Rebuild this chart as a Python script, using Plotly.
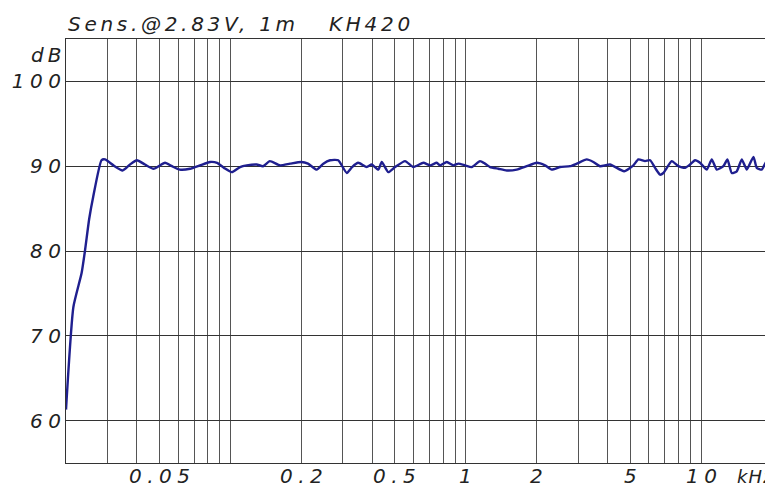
import math
import plotly.graph_objects as go

freq_khz = [0.0200, 0.0215, 0.0233, 0.0241, 0.0251, 0.0261, 0.0283, 0.0293, 0.0318, 0.0348,
            0.0374, 0.0400, 0.0433, 0.0471, 0.0527, 0.0564, 0.0609, 0.0673, 0.0742, 0.0818,
            0.0877, 0.0939, 0.1013, 0.1098, 0.1172, 0.1293, 0.1375, 0.147, 0.1624, 0.179,
            0.200, 0.2135, 0.2325, 0.248, 0.265, 0.287, 0.312, 0.3286, 0.349, 0.3793,
            0.398, 0.4249, 0.4393, 0.4686, 0.5003, 0.552, 0.5985, 0.660, 0.7047, 0.7525,
            0.777, 0.830, 0.885, 0.930, 0.993, 1.060, 1.149, 1.207, 1.268, 1.375,
            1.493, 1.646, 1.816, 2.002, 2.171, 2.318, 2.515, 2.773, 2.96, 3.265,
            3.483, 3.719, 4.102, 4.705, 5.152, 5.41, 5.777, 6.07, 6.37, 6.69,
            6.91, 7.50, 8.0, 8.54, 8.97, 9.42, 9.89, 10.57, 11.09, 11.65,
            12.43, 12.93, 13.49, 14.17, 14.88, 15.63, 16.68, 17.23, 18.09, 19.0, 20.0]
spl_db = [61.3, 73.4, 77.4, 80.1, 83.8, 86.4, 90.7, 90.8, 90.1, 89.5,
          90.2, 90.7, 90.2, 89.7, 90.4, 90.0, 89.6, 89.7, 90.1, 90.5,
          90.4, 89.8, 89.3, 89.9, 90.1, 90.2, 90.0, 90.6, 90.1, 90.3,
          90.5, 90.3, 89.6, 90.3, 90.7, 90.7, 89.2, 89.9, 90.4, 89.9,
          90.2, 89.6, 90.5, 89.3, 89.9, 90.6, 89.9, 90.4, 90.1, 90.4,
          90.1, 90.5, 90.1, 90.3, 90.1, 89.9, 90.6, 90.3, 89.9, 89.7,
          89.5, 89.6, 90.0, 90.4, 90.1, 89.6, 89.9, 90.0, 90.3, 90.8,
          90.5, 90.0, 90.2, 89.4, 90.1, 90.8, 90.6, 90.7, 89.8, 89.0,
          89.2, 90.6, 90.0, 89.8, 90.2, 90.7, 90.4, 89.6, 90.8, 89.6,
          90.0, 90.8, 89.2, 89.4, 90.8, 89.6, 91.1, 89.8, 89.6, 90.6, 90.0]

x_tick_vals = [0.05, 0.2, 0.5, 1, 2, 5, 10]
x_tick_labels = ["0.05", "0.2", "0.5", "1", "2", "5", "10"]
x_grid_vals = [m * d for d in (0.01, 0.1, 1, 10) for m in range(1, 10)] + [20]
y_tick_vals = [60, 70, 80, 90, 100]
y_tick_labels = ["60", "70", "80", "90", "100"]
title_text = "Sens.@2.83V,\u00a01m\u00a0\u00a0\u00a0KH420"

FONT = "DejaVu Sans"


def spaced(t, px):
    # letter-spacing between characters only (no trailing gap)
    if len(t) <= 1:
        return t
    return f'<span style="letter-spacing:{px}px">{t[:-1]}</span>{t[-1]}'


font = dict(family=FONT, size=20, color="#222222", style="italic")
small_font = dict(family=FONT, size=18, color="#222222", style="italic")
grid_col = "#555555"

fig = go.Figure()
fig.add_trace(go.Scatter(
    x=freq_khz, y=spl_db, mode="lines",
    line=dict(color="#1f1f8f", width=2.4, shape="spline", smoothing=0.5),
    hoverinfo="skip", showlegend=False,
))

annotations = [
    dict(text=spaced(title_text, 3.7), xref="paper", yref="paper", x=0, y=1.035,
         xanchor="left", yanchor="middle", showarrow=False, font=font),
    dict(text=spaced("dB", 4), xref="paper", yref="paper", x=0, y=0.962, xshift=-3,
         xanchor="right", yanchor="middle", showarrow=False, font=font),
    dict(text=spaced("kHz", 1.2), xref="paper", yref="paper", x=0.948, y=-0.031,
         xanchor="left", yanchor="middle", showarrow=False, font=small_font),
]
for v, t in zip(x_tick_vals, x_tick_labels):
    annotations.append(dict(text=spaced(t, 5.5), xref="x", yref="paper", x=math.log10(v), y=-0.031,
                            xanchor="center", yanchor="middle", showarrow=False, font=font))

fig.update_layout(
    width=765, height=479,
    margin=dict(l=58, r=1, t=31, b=24, autoexpand=False),
    paper_bgcolor="white", plot_bgcolor="white",
    xaxis=dict(
        type="log", range=[-1.69897, 1.30103], automargin=False,
        tickvals=x_tick_vals, showticklabels=False, ticks="",
        showgrid=True, gridcolor=grid_col, gridwidth=1,
        minor=dict(tickvals=x_grid_vals, showgrid=True, gridcolor=grid_col, gridwidth=1, ticks=""),
        showline=True, linecolor="#333333", linewidth=1, mirror=True, zeroline=False,
    ),
    yaxis=dict(
        range=[55, 105], automargin=False,
        tickvals=y_tick_vals, ticktext=[spaced(t, 5.5) for t in y_tick_labels],
        tickfont=font, ticks="", showgrid=True, gridcolor="#333333", gridwidth=1,
        showline=True, linecolor="#333333", linewidth=1, mirror=True, zeroline=False,
    ),
    annotations=annotations,
)

fig.write_html("out.html")
